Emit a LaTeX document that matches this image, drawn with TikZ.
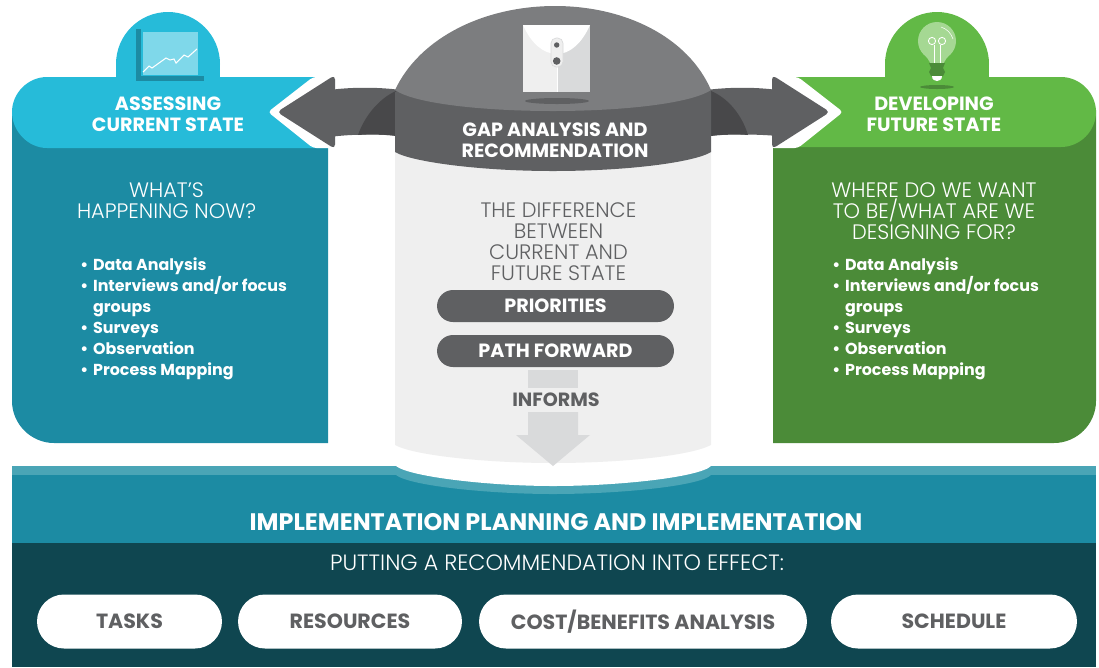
\documentclass[tikz,border=0pt]{standalone}
\usepackage{fontspec}
\setmainfont{Poppins}
\newfontfamily\thinfont{Poppins Light}
\definecolor{tealdark}{HTML}{1C8BA3}
\definecolor{tealhead}{HTML}{26BBD9}
\definecolor{tealpale}{HTML}{7FD8EA}
\definecolor{tealstrip}{HTML}{4AA5B6}
\definecolor{navy}{HTML}{0F4650}
\definecolor{greenhead}{HTML}{62B946}
\definecolor{greendark}{HTML}{4B8B38}
\definecolor{greenpale}{HTML}{A5D893}
\definecolor{slate}{HTML}{5F6062}
\definecolor{slatedark}{HTML}{48484A}
\definecolor{dome}{HTML}{7C7D7F}
\definecolor{body}{HTML}{EFEFEF}
\definecolor{pale}{HTML}{D9DADB}

\begin{document}
\begin{tikzpicture}[x=0.02cm, y=-0.02cm]
\tikzset{titre/.style={text=white, font=\fontsize{10.9}{11.95}\selectfont\bfseries, align=center, inner sep=0pt},
  soustitre/.style={font=\thinfont\fontsize{11.9}{11.95}\selectfont, align=center, inner sep=0pt},
  liste/.style={text=white, font=\fontsize{9.05}{11.95}\selectfont\bfseries, align=left, inner sep=0pt, anchor=north west},
  pilule/.style={fill=slate, text=white, rounded corners=0.32cm, inner sep=0pt, font=\fontsize{10.9}{11}\selectfont\bfseries},
  blanche/.style={fill=white, text=slate, rounded corners=0.54cm, inner sep=0pt, font=\fontsize{11.7}{12}\selectfont\bfseries}}
\useasboundingbox (0, 0) rectangle (1099, 667);
% left panel
\fill[tealdark] (12, 110) -- (328, 110) -- (328, 443) -- (54, 443) .. controls (31, 443) and (12, 424) .. (12, 401) -- cycle;
\fill[tealhead] (168, 64) circle[radius=52];
\fill[tealhead] (116, 64) rectangle (220, 90);
\fill[tealhead] (328, 77) -- (47, 77) .. controls (28, 77) and (12, 93) .. (12, 112) .. controls (12, 131) and (28, 148) .. (47, 148) -- (328, 148) -- cycle;
\fill[tealdark] (136, 29) rectangle (141, 81);
\fill[tealdark] (136, 76) rectangle (204, 81);
\fill[tealpale] (143, 32) rectangle (198, 75);
\draw[white, line width=0.6pt] (143, 72) -- (149, 66) -- (152, 68) -- (166, 58) -- (170, 60) -- (174, 59) -- (176, 63) -- (184, 55) -- (188, 57) -- (197, 49);
% right panel
\fill[greendark] (1096, 110) -- (773, 110) -- (773, 443) -- (1054, 443) .. controls (1077, 443) and (1096, 424) .. (1096, 401) -- cycle;
\fill[greenhead] (937, 64) circle[radius=52];
\fill[greenhead] (885, 64) rectangle (989, 90);
\fill[greenhead] (773, 77) -- (1061, 77) .. controls (1080, 77) and (1096, 93) .. (1096, 112) .. controls (1096, 131) and (1080, 147) .. (1061, 147) -- (773, 147) -- cycle;
\fill[greenpale] (937, 41) circle[radius=19];
\fill[greenpale] (922, 52) .. controls (926, 57) and (930, 60) .. (931, 66) -- (943, 66) .. controls (944, 60) and (948, 57) .. (952, 52) -- cycle;
\draw[white, line width=0.3pt] (941, 27) .. controls (947, 29) and (951, 33) .. (953, 39);
\draw[white, line width=0.5pt] (934, 63) -- (934, 45) (940, 63) -- (940, 45);
\draw[white, line width=0.5pt] (932, 41) circle[radius=3.6];
\draw[white, line width=0.5pt] (942, 41) circle[radius=3.6];
\fill[greendark] (929, 63) -- (945, 63) -- (943, 68) -- (945, 72) -- (943, 76) -- (931, 76) -- (929, 72) -- (931, 68) -- cycle;
\fill[white] (932, 76) -- (942, 76) .. controls (942, 80) and (939, 81) .. (937, 81) .. controls (935, 81) and (932, 80) .. (932, 76) -- cycle;
\fill[greendark] (937, 87) ellipse[x radius=17, y radius=2];
% white chevrons under the arrows
\fill[white, rounded corners=2pt] (313, 77) -- (268, 112) -- (313, 148) -- (340, 148) -- (340, 77) -- cycle;
\fill[white, rounded corners=2pt] (798, 77) -- (843, 112) -- (798, 148) -- (770, 148) -- (770, 77) -- cycle;
% arrows
\fill[slate] (330, 90) .. controls (350, 87) and (380, 87) .. (400, 90) -- (400, 136) .. controls (380, 134) and (350, 134) .. (330, 137) -- cycle;
\fill[slatedark] (358, 135) .. controls (365, 115) and (380, 98) .. (396, 91) -- (396, 136) .. controls (382, 134) and (370, 134) .. (358, 135) -- cycle;
\fill[slate, rounded corners=2.5pt] (335, 75) -- (277, 112) -- (335, 149) -- cycle;
\fill[slate] (706, 90) .. controls (730, 87) and (755, 87) .. (778, 90) -- (778, 136) .. controls (755, 134) and (730, 134) .. (706, 136) -- cycle;
\fill[slatedark] (748, 135) .. controls (742, 115) and (728, 98) .. (711, 91) -- (711, 136) .. controls (725, 134) and (738, 134) .. (748, 135) -- cycle;
\fill[slate, rounded corners=2.5pt] (772, 75) -- (830, 112) -- (772, 149) -- cycle;
% bottom band
\fill[tealdark] (12, 466) rectangle (1096, 544);
\fill[tealstrip] (12, 466) rectangle (1096, 475);
\fill[tealstrip] (396, 466) -- (711, 466) -- (711, 475) .. controls (700, 486) and (620, 494) .. (553, 494) .. controls (490, 494) and (410, 486) .. (396, 475) -- cycle;
\fill[white] (396, 460) -- (711, 460) -- (711, 466) .. controls (700, 477) and (620, 486) .. (553, 486) .. controls (490, 486) and (410, 477) .. (396, 466) -- cycle;
\fill[navy] (12, 543) rectangle (1096, 667);
% central column
\fill[body] (395, 150) -- (711, 150) -- (711, 445) .. controls (690, 456) and (620, 463) .. (553, 463) .. controls (490, 463) and (415, 456) .. (395, 445) -- cycle;
\fill[slate] (395, 92) -- (711, 92) -- (711, 152) .. controls (695, 162) and (630, 171) .. (553, 171) .. controls (480, 171) and (412, 162) .. (395, 152) -- cycle;
\fill[dome] (395, 90) .. controls (420, 37) and (485, 6) .. (555, 6) .. controls (625, 6) and (688, 37) .. (711, 90) .. controls (690, 104) and (620, 111) .. (553, 111) .. controls (485, 111) and (415, 104) .. (395, 90) -- cycle;
% envelope
\fill[body] (523, 25) rectangle (557, 92);
\fill[pale] (557, 25) rectangle (590, 92);
\fill[white] (523, 25) -- (590, 25) .. controls (582, 43) and (570, 54) .. (557, 54) .. controls (543, 54) and (531, 43) .. (523, 25) -- cycle;
\draw[white, line width=0.5pt] (557, 54) -- (557, 92);
\fill[body, draw=pale, line width=0.4pt, rounded corners=3pt] (551, 38) rectangle (563, 67);
\fill[slate] (556.7, 45) circle[radius=2.7];
\fill[slate] (556.7, 61) circle[radius=3.8];
\fill[slate] (557, 101) ellipse[x radius=32, y radius=3];
% informs arrow
\fill[pale] (528, 370) rectangle (578, 388);
\fill[pale] (528, 412) -- (578, 412) -- (578, 435) -- (590, 435) -- (553, 466) -- (516, 435) -- (528, 435) -- cycle;
% titles
\node[titre] (assessing) at (168, 114.5) {ASSESSING\\CURRENT STATE};
\node[titre] (developing) at (934, 114.5) {DEVELOPING\\FUTURE STATE};
\node[titre] (gap) at (555, 140) {GAP ANALYSIS AND\\RECOMMENDATION};
\node[titre, font=\fontsize{13.6}{14}\selectfont\bfseries] (planning) at (556, 522) {IMPLEMENTATION PLANNING AND IMPLEMENTATION};
% questions
\node[soustitre, text=white] (now) at (166.5, 201) {WHAT’S\\HAPPENING NOW?};
\node[soustitre, text=white] (where) at (934, 211.5) {WHERE DO WE WANT\\TO BE/WHAT ARE WE\\DESIGNING FOR?};
\node[soustitre, text=slate] (difference) at (558.5, 242) {THE DIFFERENCE\\BETWEEN\\CURRENT AND\\FUTURE STATE};
\node[soustitre, text=white, font=\thinfont\fontsize{12.6}{13}\selectfont] (effect) at (557, 563) {PUTTING A RECOMMENDATION INTO EFFECT:};
% lists
\node[liste] (listeA) at (80, 257) {•\hspace{0.3em}Data Analysis\\•\hspace{0.3em}Interviews and/or focus\\\phantom{•}\hspace{0.3em}groups\\•\hspace{0.3em}Surveys\\•\hspace{0.3em}Observation\\•\hspace{0.3em}Process Mapping};
\node[liste] (listeB) at (832, 257) {•\hspace{0.3em}Data Analysis\\•\hspace{0.3em}Interviews and/or focus\\\phantom{•}\hspace{0.3em}groups\\•\hspace{0.3em}Surveys\\•\hspace{0.3em}Observation\\•\hspace{0.3em}Process Mapping};
% pills
\node[pilule, minimum width=4.74cm, minimum height=0.64cm] (priorities) at (555.5, 306) {PRIORITIES};
\node[pilule, minimum width=4.74cm, minimum height=0.64cm] (path) at (555.5, 351) {PATH FORWARD};
\node[text=slate, inner sep=0pt, font=\fontsize{10.9}{11}\selectfont\bfseries] (informs) at (556, 400) {INFORMS};
\node[blanche, minimum width=3.7cm, minimum height=1.08cm] (tasks) at (129.5, 621.5) {TASKS};
\node[blanche, minimum width=4.48cm, minimum height=1.08cm] (resources) at (350, 621.5) {RESOURCES};
\node[blanche, minimum width=6.56cm, minimum height=1.08cm] (cost) at (643, 621.5) {COST/BENEFITS ANALYSIS};
\node[blanche, minimum width=4.92cm, minimum height=1.08cm] (schedule) at (954, 621.5) {SCHEDULE};
\end{tikzpicture}
\end{document}
